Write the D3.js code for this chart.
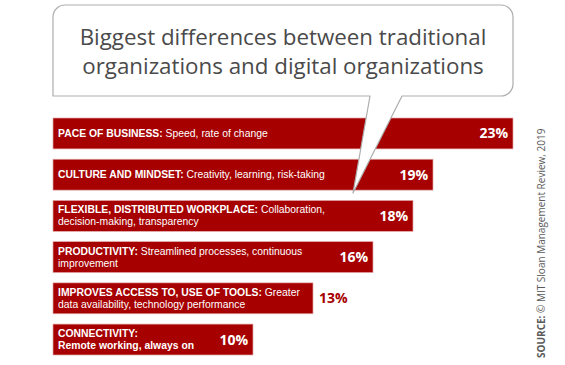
<!DOCTYPE html>
<html>
<head>
<meta charset="utf-8">
<script src="https://cdn.jsdelivr.net/npm/d3@7"></script>
<style>
  html, body { margin: 0; padding: 0; background: #fff; }
  svg { display: block; }
</style>
</head>
<body>
<div id="chart"></div>
<script>
var titleLines = ["Biggest differences between traditional",
                  "organizations and digital organizations"];

// **...** marks the bold lead of each label
var labels = [
  ["**PACE OF BUSINESS:** Speed, rate of change"],
  ["**CULTURE AND MINDSET:** Creativity, learning, risk-taking"],
  ["**FLEXIBLE, DISTRIBUTED WORKPLACE:** Collaboration,", "decision-making, transparency"],
  ["**PRODUCTIVITY:** Streamlined processes, continuous", "improvement"],
  ["**IMPROVES ACCESS TO, USE OF TOOLS:** Greater", "data availability, technology performance"],
  ["**CONNECTIVITY:**", "**Remote working, always on**"]
];
var values = [23, 19, 18, 16, 13, 10];
var valueInside = [true, true, true, true, false, true];
var sourceLead = "SOURCE:";
var sourceText = " \u00a9 MIT Sloan Management Review, 2019";

var width = 565, height = 365;
var red = "#a60000";
var font = "'Open Sans', sans-serif";
var labelFont = "'Liberation Sans', Arial, sans-serif";

var svg = d3.select("#chart")
  .append("svg")
    .attr("width", width)
    .attr("height", height);

var x = d3.scaleLinear()
    .domain([0, 23])
    .range([53, 513]);

var y = d3.scaleBand()
    .domain(d3.range(values.length))
    .range([118, 355])
    .paddingInner(0.25);

// bars
var bar = svg.selectAll("g.bar")
    .data(values)
  .enter().append("g")
    .attr("class", "bar");

bar.append("rect")
    .attr("x", x(0))
    .attr("y", function(d, i) { return y(i); })
    .attr("width", function(d) { return x(d) - x(0); })
    .attr("height", y.bandwidth())
    .attr("fill", red)
    .attr("stroke", "#e2a9a9")
    .attr("stroke-width", 0.7);

// category labels, one text per line
var lh = 12;
bar.each(function(d, i) {
  var g = d3.select(this);
  var lines = labels[i];
  var cy = y(i) + y.bandwidth() / 2;
  var first = cy + 3.6 - (lines.length - 1) * lh / 2;
  lines.forEach(function(line, j) {
    var t = g.append("text")
        .attr("class", "label")
        .attr("x", x(0) + 5)
        .attr("y", first + j * lh)
        .attr("font-family", labelFont)
        .attr("font-size", 10)
        .attr("fill", "#fff");
    line.split("**").forEach(function(p, k) {
      if (!p) return;
      t.append("tspan")
          .attr("font-weight", k % 2 ? 700 : 400)
          .text(p);
    });
  });
});

// scale labels so the first one spans the width seen in the original
var lw = svg.select("text.label").node().getComputedTextLength();
svg.selectAll("text.label").attr("font-size", Math.min(10.6, 10 * 210 / lw));

// value labels
bar.append("text")
    .attr("x", function(d, i) { return valueInside[i] ? x(d) - 5 : x(d) + 6; })
    .attr("y", function(d, i) { return y(i) + y.bandwidth() / 2 + 5; })
    .attr("text-anchor", function(d, i) { return valueInside[i] ? "end" : "start"; })
    .attr("font-family", font)
    .attr("font-size", 14)
    .attr("font-weight", 700)
    .attr("fill", function(d, i) { return valueInside[i] ? "#fff" : red; })
    .text(function(d) { return d + "%"; });

// speech bubble with the title
var bx0 = 53, bx1 = 513, by0 = 5, by1 = 96, r = 12;
var tail = [[402, by1], [353, 193], [370, by1]];
var path = d3.path();
path.moveTo(bx0, by0 + r);
path.arcTo(bx0, by0, bx0 + r, by0, r);
path.lineTo(bx1 - r, by0);
path.arcTo(bx1, by0, bx1, by0 + r, r);
path.lineTo(bx1, by1 - r);
path.arcTo(bx1, by1, bx1 - r, by1, r);
tail.forEach(function(p) { path.lineTo(p[0], p[1]); });
path.lineTo(bx0, by1);
path.closePath();

svg.append("path")
    .attr("d", path.toString())
    .attr("fill", "#fff")
    .attr("stroke", "#adadad")
    .attr("stroke-width", 1.2)
    .attr("stroke-linejoin", "round");

var title = svg.append("text")
    .attr("text-anchor", "middle")
    .attr("font-family", font)
    .attr("font-size", 24)
    .attr("fill", "#4a4a4a");

title.selectAll("tspan")
    .data(titleLines)
  .enter().append("tspan")
    .attr("x", (bx0 + bx1) / 2)
    .attr("y", function(d, i) { return 45 + i * 29; })
    .text(function(d) { return d; });

// fit the title to the bubble width seen in the original
var w = title.select("tspan").node().getComputedTextLength();
title.attr("font-size", 24 * 407 / w);

// source note
var src = svg.append("text")
    .attr("transform", "translate(545,358) rotate(-90)")
    .attr("font-family", font)
    .attr("font-size", 10)
    .attr("fill", "#5a5a5a");
src.append("tspan").attr("font-weight", 700).text(sourceLead);
src.append("tspan").text(sourceText);
</script>
</body>
</html>
